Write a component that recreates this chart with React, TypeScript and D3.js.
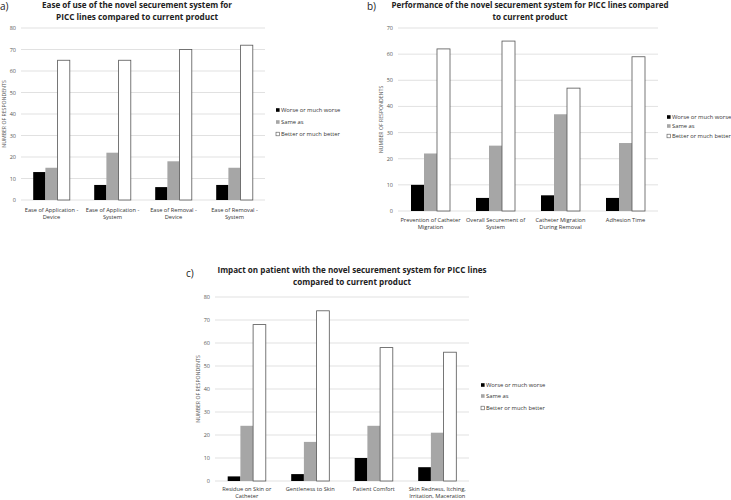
import React from "react";
import * as d3 from "d3";

// series names shared by all three panels
const seriesNames = ["Worse or much worse", "Same as", "Better or much better"];
const seriesFill = ["#000000", "#a6a6a6", "#ffffff"];

// panel a
const catsA = [["Ease of Application -", "Device"], ["Ease of Application -", "System"], ["Ease of Removal -", "Device"], ["Ease of Removal -", "System"]];
const worseA = [13, 7, 6, 7];
const sameA = [15, 22, 18, 15];
const betterA = [65, 65, 70, 72];

// panel b
const catsB = [["Prevention of Catheter", "Migration"], ["Overall Securement of", "System"], ["Catheter Migration", "During Removal"], ["Adhesion Time"]];
const worseB = [10, 5, 6, 5];
const sameB = [22, 25, 37, 26];
const betterB = [62, 65, 47, 59];

// panel c
const catsC = [["Residue on Skin or", "Catheter"], ["Gentleness to Skin"], ["Patient Comfort"], ["Skin Redness, Itching,", "Irritation, Maceration"]];
const worseC = [2, 3, 10, 6];
const sameC = [24, 17, 24, 21];
const betterC = [68, 74, 58, 56];

const FONT = "'Liberation Sans Narrow', 'Open Sans', sans-serif";

type PanelProps = {
  tag: string;
  tagX: number;
  tagY: number;
  title: string[];
  titleX: number;
  titleY: number[];
  titleW: number[];
  cats: string[][];
  series: number[][];
  yMax: number;
  x0: number;
  x1: number;
  yTop: number;
  yBot: number;
  legendX: number;
  legendY: number[];
  labelY: number;
};

function Panel(p: PanelProps) {
  const x = d3.scaleBand<number>().domain(d3.range(p.cats.length)).range([p.x0, p.x1]).paddingInner(0.4).paddingOuter(0.2);
  const sub = d3.scaleBand<number>().domain(d3.range(p.series.length)).range([0, x.bandwidth()]);
  const y = d3.scaleLinear().domain([0, p.yMax]).range([p.yBot, p.yTop]);
  const ticks = d3.range(0, p.yMax + 1, 10);
  return (
    <g>
      <text x={p.tagX} y={p.tagY} fontSize={10} fontFamily={FONT} fill="#222">{p.tag}</text>
      {p.title.map((t, i) => (
        <text key={i} x={p.titleX} y={p.titleY[i]} textAnchor="middle" fontSize={8.5} fontWeight="bold"
          fontFamily={FONT} fill="#222" textLength={p.titleW[i]} lengthAdjust="spacingAndGlyphs">{t}</text>
      ))}
      {ticks.map(t => (
        <g key={t}>
          <line x1={p.x0} x2={p.x1} y1={y(t)} y2={y(t)} stroke="#d9d9d9" strokeWidth={0.8} />
          <text x={p.x0 - 5} y={y(t) + 2} textAnchor="end" fontSize={5.5} fontFamily={FONT} fill="#555">{t}</text>
        </g>
      ))}
      <text transform={`translate(${p.x0 - 15},${(p.yTop + p.yBot) / 2}) rotate(-90)`} textAnchor="middle"
        fontSize={5.2} fontFamily={FONT} fill="#555">NUMBER OF RESPONDENTS</text>
      {p.series.map((s, si) => s.map((v, ci) => (
        <rect key={`${si}-${ci}`} x={(x(ci) ?? 0) + (sub(si) ?? 0)} y={y(v)} width={sub.bandwidth()}
          height={y(0) - y(v)} fill={seriesFill[si]} stroke={si === 2 ? "#555" : "none"} strokeWidth={0.8} />
      )))}
      {p.cats.map((lines, ci) => lines.map((l, li) => (
        <text key={`${ci}-${li}`} x={(x(ci) ?? 0) + x.bandwidth() / 2} y={p.labelY + li * 7} textAnchor="middle"
          fontSize={5.7} fontFamily={FONT} fill="#333">{l}</text>
      )))}
      {seriesNames.map((n, i) => (
        <g key={n}>
          <rect x={p.legendX} y={p.legendY[i] - 1.8} width={3.6} height={3.6} fill={seriesFill[i]}
            stroke={i === 2 ? "#555" : "none"} strokeWidth={0.6} />
          <text x={p.legendX + 5} y={p.legendY[i] + 2.1} fontSize={5.8} fontFamily={FONT} fill="#333">{n}</text>
        </g>
      ))}
    </g>
  );
}

export default function App() {
  return (
    <svg width={731} height={500} style={{ position: "absolute", left: 0, top: 0, background: "#fff" }}>
      <rect width={731} height={500} fill="#fff" />
      <Panel tag="a)" tagX={0} tagY={10} title={["Ease of use of the novel securement system for", "PICC lines compared to current product"]}
        titleX={137} titleY={[8, 20]} titleW={[190, 162]} cats={catsA} series={[worseA, sameA, betterA]}
        yMax={80} x0={21} x1={265} yTop={28} yBot={200} legendX={276} legendY={[110, 122, 134]} labelY={212} />
      <Panel tag="b)" tagX={367} tagY={10} title={["Performance of the novel securement system for PICC lines compared", "to current product"]}
        titleX={530} titleY={[8, 20]} titleW={[277, 75]} cats={catsB} series={[worseB, sameB, betterB]}
        yMax={70} x0={398} x1={658} yTop={28} yBot={211} legendX={667} legendY={[117, 126, 136]} labelY={222} />
      <Panel tag="c)" tagX={186} tagY={277} title={["Impact on patient with the novel securement system for PICC lines", "compared to current product"]}
        titleX={352} titleY={[273, 285]} titleW={[269, 118]} cats={catsC} series={[worseC, sameC, betterC]}
        yMax={80} x0={215} x1={469} yTop={297} yBot={481} legendX={481} legendY={[385, 396, 408]} labelY={491} />
    </svg>
  );
}
